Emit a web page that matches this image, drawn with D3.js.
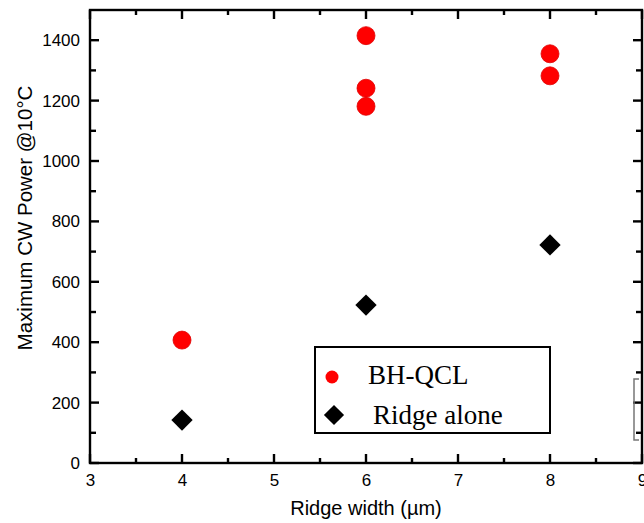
<!DOCTYPE html>
<html>
<head>
<meta charset="utf-8">
<script src="https://cdn.jsdelivr.net/npm/d3@7"></script>
<style>
  body { margin: 0; background: #fff; }
  svg { display: block; }
  .tick text { font-family: Arial, "Liberation Sans", sans-serif; font-size: 17px; fill: #000; }
</style>
</head>
<body>
<svg id="chart"></svg>
<script>
// data
const bhWidth = [4, 6, 6, 6, 8, 8]
const bhPower = [407, 1415, 1241, 1181, 1355, 1282]
const ridgeWidth = [4, 6, 8]
const ridgePower = [142, 523, 722]
const xTicks = [3, 4, 5, 6, 7, 8, 9]
const yTicks = [0, 200, 400, 600, 800, 1000, 1200, 1400]
const legendLabels = ['BH-QCL', 'Ridge alone']

const width = 644, height = 523
const margin = {top: 10, right: 2, bottom: 60, left: 90}

const svg = d3.select('#chart')
  .attr('width', width)
  .attr('height', height)

const x = d3.scaleLinear()
  .domain([3, 9])
  .range([margin.left, width - margin.right])

const y = d3.scaleLinear()
  .domain([0, 1500])
  .range([height - margin.bottom, margin.top])

const x0 = x.range()[0], x1 = x.range()[1]
const y0 = y.range()[0], y1 = y.range()[1]

const minorX = d3.range(3.5, 9, 1)
const minorY = d3.range(100, 1500, 200)

// inward tick marks on all four sides
const tickG = svg.append('g')
  .attr('stroke', '#000')
  .attr('stroke-width', 2.4)

function xTickMarks(values, len) {
  tickG.append('g').selectAll('line')
    .data(values)
    .join('line')
    .attr('x1', d => x(d)).attr('x2', d => x(d))
    .attr('y1', y0).attr('y2', y0 - len)
  tickG.append('g').selectAll('line')
    .data(values)
    .join('line')
    .attr('x1', d => x(d)).attr('x2', d => x(d))
    .attr('y1', y1).attr('y2', y1 + len)
}
function yTickMarks(values, len) {
  tickG.append('g').selectAll('line')
    .data(values)
    .join('line')
    .attr('y1', d => y(d)).attr('y2', d => y(d))
    .attr('x1', x0).attr('x2', x0 + len)
  tickG.append('g').selectAll('line')
    .data(values)
    .join('line')
    .attr('y1', d => y(d)).attr('y2', d => y(d))
    .attr('x1', x1).attr('x2', x1 - len)
}
xTickMarks(xTicks, 9)
xTickMarks(minorX, 5)
yTickMarks(yTicks, 9)
yTickMarks(minorY, 6)

// tick labels
svg.append('g')
  .attr('transform', 'translate(0,' + y0 + ')')
  .call(d3.axisBottom(x).tickValues(xTicks).tickFormat(d3.format('d')).tickSize(0).tickPadding(11))
  .call(g => g.select('.domain').remove())
svg.append('g')
  .attr('transform', 'translate(' + x0 + ',0)')
  .call(d3.axisLeft(y).tickValues(yTicks).tickFormat(d3.format('d')).tickSize(0).tickPadding(10))
  .call(g => g.select('.domain').remove())

// frame
svg.append('rect')
  .attr('x', x0).attr('y', y1)
  .attr('width', x1 - x0).attr('height', y0 - y1)
  .attr('fill', 'none')
  .attr('stroke', '#000')
  .attr('stroke-width', 2.4)

// axis titles
svg.append('text')
  .attr('x', (x0 + x1) / 2)
  .attr('y', 515)
  .attr('text-anchor', 'middle')
  .style('font-family', 'Arial, "Liberation Sans", sans-serif')
  .style('font-size', '20px')
  .text('Ridge width (\u00b5m)')

svg.append('text')
  .attr('transform', 'translate(32,218) rotate(-90)')
  .attr('text-anchor', 'middle')
  .style('font-family', 'Arial, "Liberation Sans", sans-serif')
  .style('font-size', '20.5px')
  .text('Maximum CW Power @10\u00b0C')

const diamond = d3.symbol().type(d3.symbolDiamond2)

// ridge alone
svg.append('g')
  .selectAll('path')
  .data(ridgeWidth)
  .join('path')
  .attr('d', diamond.size(290))
  .attr('transform', (d, i) => 'translate(' + x(d) + ',' + y(ridgePower[i]) + ')')
  .attr('fill', '#000')

// BH-QCL
svg.append('g')
  .selectAll('circle')
  .data(bhWidth)
  .join('circle')
  .attr('cx', d => x(d))
  .attr('cy', (d, i) => y(bhPower[i]))
  .attr('r', 9)
  .attr('fill', '#ff0000')
  .attr('stroke', '#e00000')
  .attr('stroke-width', 0.8)

// legend
const legend = svg.append('g')
legend.append('rect')
  .attr('x', 315).attr('y', 347)
  .attr('width', 235).attr('height', 86)
  .attr('fill', '#fff')
  .attr('stroke', '#000')
  .attr('stroke-width', 2)
legend.append('circle')
  .attr('cx', 332).attr('cy', 377).attr('r', 6.5)
  .attr('fill', '#ff0000')
legend.append('path')
  .attr('d', diamond.size(260))
  .attr('transform', 'translate(334,415)')
  .attr('fill', '#000')
legend.selectAll('text')
  .data(legendLabels)
  .join('text')
  .attr('x', (d, i) => i ? 373 : 368)
  .attr('y', (d, i) => i ? 424 : 384)
  .style('font-family', '"Times New Roman", "Liberation Serif", serif')
  .style('font-size', '27px')
  .text(d => d)

// grey bracket at the right edge of the source image
svg.append('path')
  .attr('d', 'M639,379 H634 V440 H639')
  .attr('fill', 'none')
  .attr('stroke', '#777')
  .attr('stroke-width', 1.5)
</script>
</body>
</html>
